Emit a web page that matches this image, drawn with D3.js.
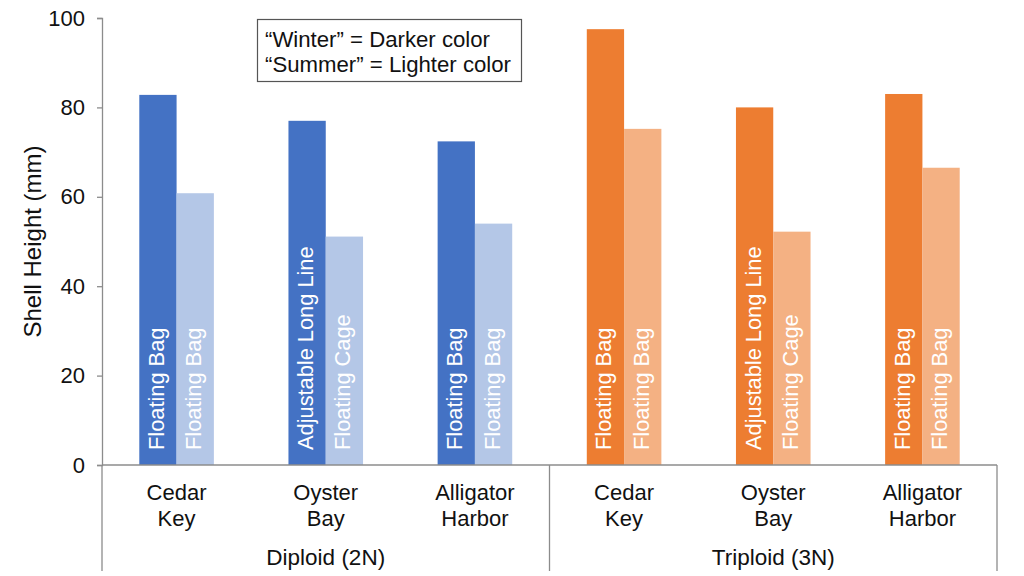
<!DOCTYPE html>
<html>
<head>
<meta charset="utf-8">
<script src="https://cdn.jsdelivr.net/npm/d3@7"></script>
<style>
  html, body { margin: 0; padding: 0; background: #fff; }
  svg { display: block; font-family: "Liberation Sans", Arial, sans-serif; }
</style>
</head>
<body>
<svg id="chart" width="1024" height="576"></svg>
<script>
// ---- data ----
const groups = ["Diploid (2N)", "Triploid (3N)"];
const sites = ["Cedar Key", "Oyster Bay", "Alligator Harbor"];
const siteLines = [["Cedar", "Key"], ["Oyster", "Bay"], ["Alligator", "Harbor"]];
const winterValues = [82.8, 77.0, 72.4, 97.5, 80.0, 83.0];
const summerValues = [60.8, 51.1, 54.0, 75.2, 52.2, 66.5];
const winterMethods = ["Floating Bag", "Adjustable Long Line", "Floating Bag", "Floating Bag", "Adjustable Long Line", "Floating Bag"];
const summerMethods = ["Floating Bag", "Floating Cage", "Floating Bag", "Floating Bag", "Floating Cage", "Floating Bag"];
const yTicks = [0, 20, 40, 60, 80, 100];
const seasons = ["Winter", "Summer"];
const legendLines = ["\u201cWinter\u201d = Darker color", "\u201cSummer\u201d = Lighter color"];
const yTitle = "Shell Height (mm)";

const colors = {
  "Diploid (2N)": { Winter: "#4472C4", Summer: "#B4C7E7" },
  "Triploid (3N)": { Winter: "#ED7D31", Summer: "#F4B183" }
};

// build table
const rows = [];
groups.forEach((g, gi) => sites.forEach((s, si) => {
  const i = gi * sites.length + si;
  rows.push({ key: g + "|" + s, group: g, site: s, lines: siteLines[si],
    Winter: winterValues[i], Summer: summerValues[i],
    WinterMethod: winterMethods[i], SummerMethod: summerMethods[i] });
}));

const svg = d3.select("#chart");
const pLeft = 102, pRight = 997, pTop = 18, pBottom = 465;
const textColor = "#111111";
const axisColor = "#8c8c8c";
const fs = 22;

const x0 = d3.scaleBand().domain(rows.map(d => d.key)).range([pLeft, pRight])
  .paddingInner(0.5).paddingOuter(0.25);
const x1 = d3.scaleBand().domain(seasons).range([0, x0.bandwidth()]);
const y = d3.scaleLinear().domain([0, 100]).range([pBottom, pTop]);

// bars
const cat = svg.append("g").selectAll("g").data(rows).join("g")
  .attr("transform", d => `translate(${x0(d.key)},0)`);

cat.selectAll("rect").data(d => seasons.map(s => ({ s, v: d[s], g: d.group })))
  .join("rect")
  .attr("x", d => x1(d.s))
  .attr("y", d => y(d.v))
  .attr("width", x1.bandwidth())
  .attr("height", d => y(0) - y(d.v))
  .attr("fill", d => colors[d.g][d.s]);

cat.selectAll("text.method").data(d => seasons.map(s => ({ s, m: d[s + "Method"] })))
  .join("text")
  .attr("class", "method")
  .attr("transform", d => `translate(${x1(d.s) + x1.bandwidth() / 2 + 6},${pBottom - 15}) rotate(-90)`)
  .attr("text-anchor", "start")
  .attr("font-size", 21.8)
  .attr("fill", "#ffffff")
  .text(d => d.m);

// y axis
const yAxis = d3.axisLeft(y).tickValues(yTicks).tickSize(5).tickPadding(12);
const ya = svg.append("g").attr("transform", `translate(${pLeft},0)`).call(yAxis);
ya.select(".domain").attr("stroke", axisColor).attr("stroke-width", 1.3);
ya.selectAll(".tick line").attr("stroke", axisColor).attr("stroke-width", 1.3);
ya.selectAll(".tick text").attr("font-size", fs).attr("fill", textColor)
  .attr("font-family", "Liberation Sans, Arial, sans-serif");

// y title
svg.append("text")
  .attr("transform", `translate(41,${(pTop + pBottom) / 2}) rotate(-90)`)
  .attr("text-anchor", "middle")
  .attr("font-size", 24)
  .attr("fill", textColor)
  .text(yTitle);

// x axis baseline
const xAxis = d3.axisBottom(x0).tickSize(0).tickFormat("");
const xa = svg.append("g").attr("transform", `translate(0,${pBottom})`).call(xAxis);
xa.select(".domain").attr("stroke", axisColor).attr("stroke-width", 1.3)
  .attr("d", `M${pLeft},0H${pRight}`);

// group separators
const groupEdges = [pLeft, (pLeft + pRight) / 2, pRight];
svg.append("g").selectAll("line").data(groupEdges).join("line")
  .attr("x1", d => d).attr("x2", d => d)
  .attr("y1", pBottom).attr("y2", 571)
  .attr("stroke", axisColor).attr("stroke-width", 1.3);

// category labels
const catLabels = svg.append("g").selectAll("text").data(rows).join("text")
  .attr("x", d => x0(d.key) + x0.bandwidth() / 2)
  .attr("y", 500)
  .attr("text-anchor", "middle")
  .attr("font-size", fs)
  .attr("fill", textColor);
catLabels.selectAll("tspan").data(d => d.lines.map(l => ({ l, x: x0(d.key) + x0.bandwidth() / 2 })))
  .join("tspan")
  .attr("x", d => d.x)
  .attr("dy", (d, i) => i === 0 ? 0 : 25.5)
  .text(d => d.l);

// group labels
svg.append("g").selectAll("text").data(groups).join("text")
  .attr("x", (d, i) => (groupEdges[i] + groupEdges[i + 1]) / 2)
  .attr("y", 565)
  .attr("text-anchor", "middle")
  .attr("font-size", 22.5)
  .attr("fill", textColor)
  .text(d => d);

// legend note box
const lg = svg.append("g");
lg.append("rect").attr("x", 257.5).attr("y", 19.5).attr("width", 264).attr("height", 62)
  .attr("fill", "#fff").attr("stroke", "#555").attr("stroke-width", 1.2);
lg.selectAll("text").data(legendLines).join("text")
  .attr("x", 265).attr("y", (d, i) => 47 + i * 25)
  .attr("font-size", 22.2)
  .attr("fill", textColor)
  .text(d => d);
</script>
</body>
</html>
